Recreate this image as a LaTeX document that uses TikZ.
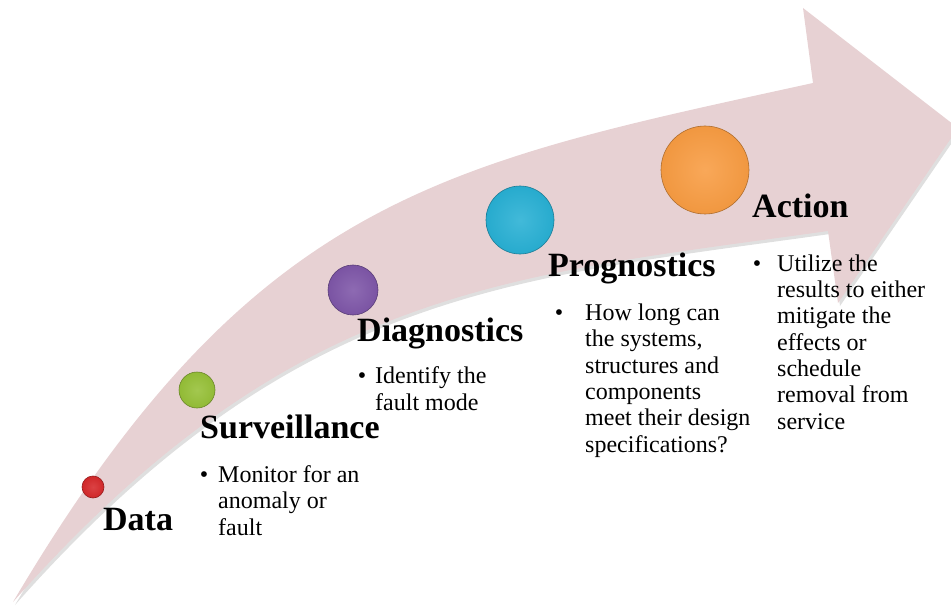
\documentclass[tikz,border=0pt]{standalone}
\usepackage{fontspec}
\setmainfont{Liberation Serif}
\usetikzlibrary{shadows}
\definecolor{arrowpink}{RGB}{231,209,211}
\definecolor{dotred}{RGB}{214,40,42}
\definecolor{dotgreen}{RGB}{150,192,55}
\definecolor{dotpurple}{RGB}{126,86,168}
\definecolor{dotcyan}{RGB}{40,176,212}
\definecolor{dotorange}{RGB}{248,156,66}
\newcommand{\itm}[1]{\llap{\textbullet\hspace{#1pt}}}
\begin{document}
\begin{tikzpicture}[x=1pt,y=-1pt,
    head/.style={anchor=base west,inner sep=0pt,font=\fontsize{34}{37}\selectfont\bfseries},
    body/.style={anchor=base west,inner sep=0pt,align=left,font=\fontsize{24}{26.3}\selectfont},
    dot/.style={circle,inner sep=0pt,draw=#1!70!black,line width=.6pt,inner color=#1!88!white,outer color=#1!97!black}]
  \useasboundingbox (0,0) rectangle (951,607);
  % the bent arrow
  \fill[arrowpink,drop shadow={opacity=.25,shadow xshift=2pt,shadow yshift=-3pt}]
    (13,602) .. controls (253,196) and (443,164) .. (813,83) -- (803,8) -- (958,128) -- (838,303) -- (828,231)
    .. controls (508,276) and (293,286) .. (13,602) -- cycle;
  % the steps (body nodes sit on their last baseline)
  \node[dot=dotred,minimum size=22pt] (reddot) at (93,487) {};
  \node[dot=dotgreen,minimum size=36pt] (greendot) at (197,390) {};
  \node[dot=dotpurple,minimum size=50pt] (purpledot) at (353,290) {};
  \node[dot=dotcyan,minimum size=68pt] (cyandot) at (520,220) {};
  \node[dot=dotorange,minimum size=88pt] (orangedot) at (705,170) {};
  \node[head] (data) at (103,530) {Data};
  \node[head] (surv) at (200,438) {Surveillance};
  \node[body] (survtxt) at (218,535) {\itm{10}Monitor for an\\anomaly or\\fault};
  \node[head] (diag) at (357,341) {Diagnostics};
  \node[body] (diagtxt) at (375,410) {\itm{9}Identify the\\fault mode};
  \node[head] (prog) at (548,276) {Prognostics};
  \node[body] (progtxt) at (585,452) {\itm{22}How long can\\the systems,\\structures and\\components\\meet their design\\specifications?};
  \node[head] (act) at (752,217) {Action};
  \node[body] (acttxt) at (777,429) {\itm{16}Utilize the\\results to either\\mitigate the\\effects or\\schedule\\removal from\\service};
\end{tikzpicture}
\end{document}
